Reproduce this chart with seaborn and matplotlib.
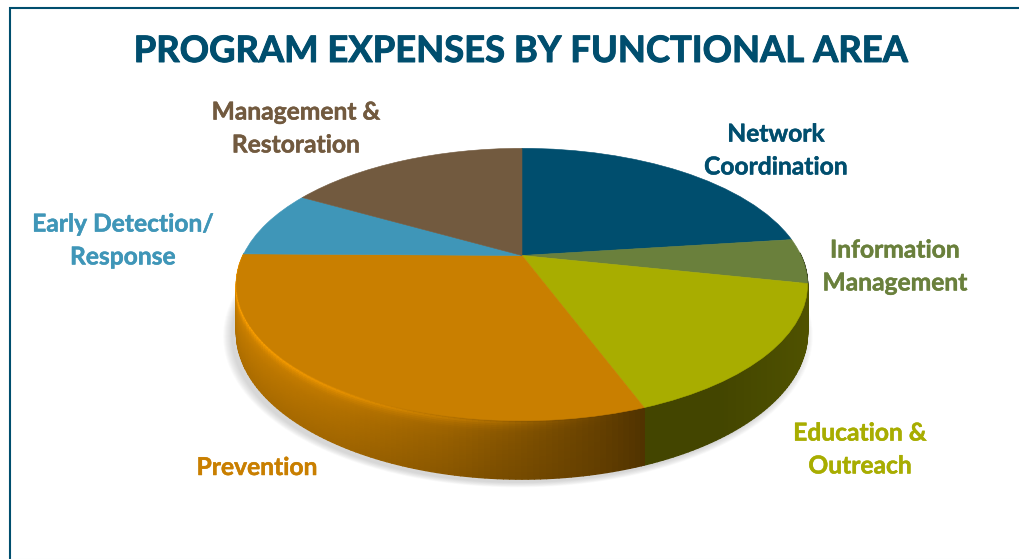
import numpy as np
import matplotlib
matplotlib.use("Agg")
import matplotlib.pyplot as plt
import matplotlib.patheffects as pe
import seaborn as sns
from matplotlib.collections import PolyCollection
from matplotlib.transforms import Transform
from matplotlib.colors import to_rgb

title = "PROGRAM EXPENSES BY FUNCTIONAL AREA"
labels = ["Network\nCoordination", "Information\nManagement", "Education &\nOutreach",
          "Prevention", "Early Detection/\nResponse", "Management &\nRestoration"]
values = [23, 5.3, 16, 30.9, 8, 16.8]
hex_colors = ["#004E6E", "#6A803C", "#A8AD00", "#C97F00", "#3F96B8", "#725A3F"]
label_xy = [(776, 150.5), (895, 266.5), (860, 449.5), (257, 467.5), (123, 240.5), (296, 128.5)]

CX, CY, A, B, P, DEPTH = 522.0, 255.5, 279.0, 130.0, 0.213, 46.0


class Perspective(Transform):
    """Tilts the flat unit pie into screen pixels."""
    input_dims = output_dims = 2
    is_separable = False
    has_inverse = False

    def __init__(self, z=0.0):
        super().__init__()
        self.z = z

    def transform_non_affine(self, values):
        v = np.asarray(values, float)
        w = 1 + P * v[:, 1]
        return np.column_stack((CX + A * v[:, 0] / w, CY + (self.z * DEPTH - B * v[:, 1]) / w))


sns.set_theme(style="white")
plt.rcParams["font.family"] = ["Lato", "DejaVu Sans"]
palette = sns.color_palette(hex_colors)

fig = plt.figure(figsize=(10.2, 5.59), dpi=100)
ax = fig.add_axes([0, 0, 1, 1])
wedges, _ = ax.pie(values, colors=palette, startangle=90, counterclock=False,
                   wedgeprops={"linewidth": 0.4})
ax.set_aspect("auto")
ax.set_xlim(0, 1020)
ax.set_ylim(559, 0)
ax.set_frame_on(True)
for s in ax.spines.values():
    s.set_visible(False)

top = Perspective(0.0)
for wd in wedges:
    wd.set_transform(top + ax.transData)
    wd.set_edgecolor(wd.get_facecolor())
    wd.set_zorder(5)


def project(theta_deg, z):
    t = np.radians(theta_deg)
    return Perspective(z).transform_non_affine(np.column_stack((np.cos(t), np.sin(t))))


# soft shadow under the pie
full = project(np.linspace(0, 360, 361), 1.0)
centre = full.mean(axis=0)
for s in np.linspace(0.004, 0.032, 9):
    pts = centre + (full - centre) * (1 + s) + np.array([-4.0, 3.0])
    ax.fill(pts[:, 0], pts[:, 1], color="#707070", alpha=0.03, lw=0, zorder=1)

# side wall, shaded across the pie and down the rim
z_edges = np.linspace(0, 1, 31)
polys, cols = [], []
for wd, c in zip(wedges, palette):
    t1, t2 = wd.theta1, wd.theta2
    angs = np.unique(np.clip(np.arange(np.floor(t1), np.ceil(t2) + 1), t1, t2))
    base = np.array(to_rgb(c))
    for a0, a1 in zip(angs[:-1], angs[1:]):
        if np.sin(np.radians((a0 + a1) / 2)) > 0.02:
            continue
        for k in range(len(z_edges) - 1):
            zm = (z_edges[k] + z_edges[k + 1]) / 2
            p0 = project(np.array([a0, a1]), z_edges[k])
            p1 = project(np.array([a1, a0]), z_edges[k + 1])
            quad = np.vstack((p0, p1))
            xm = quad[:, 0].mean()
            shade = np.interp(xm, [236, 340, 450, 520, 600, 645, 720, 808],
                              [0.98, 0.90, 0.76, 0.64, 0.50, 0.40, 0.40, 0.47])
            strength = np.interp(xm, [236, 500, 630], [1.0, 0.85, 0.0])
            prof = np.interp(zm, [0, 0.04, 0.10, 0.20, 0.4, 1.0], [1.12, 1.30, 1.16, 1.04, 0.98, 0.88])
            gain = 1 + (prof - 1) * strength
            polys.append(quad)
            cols.append(np.clip(base * shade * gain, 0, 1))
ax.add_collection(PolyCollection(polys, facecolors=cols, edgecolors=cols, linewidths=1.0, zorder=3))

# text
for lab, (x, y), c in zip(labels, label_xy, palette):
    t = ax.text(x, y, lab, color=c, ha="center", va="center", fontsize=17.7,
                fontweight="bold", linespacing=1.52, zorder=6)
    t.set_path_effects([pe.withStroke(linewidth=0.35, foreground=c)])
t = ax.text(520, 51.5, title, color=hex_colors[0], ha="center", va="center",
            fontsize=26.2, fontweight="bold", zorder=6)
t.set_path_effects([pe.withStroke(linewidth=0.7, foreground=hex_colors[0])])

# page frame
ax.plot([10, 10, 1020], [559, 7.5, 7.5], color=hex_colors[0], lw=1.5, zorder=7, solid_joinstyle="miter")
ax.plot([10, 1020], [558.5, 558.5], color="#E4EEF0", lw=0.8, zorder=7)

fig.savefig("out.png", dpi=100, facecolor="white")
